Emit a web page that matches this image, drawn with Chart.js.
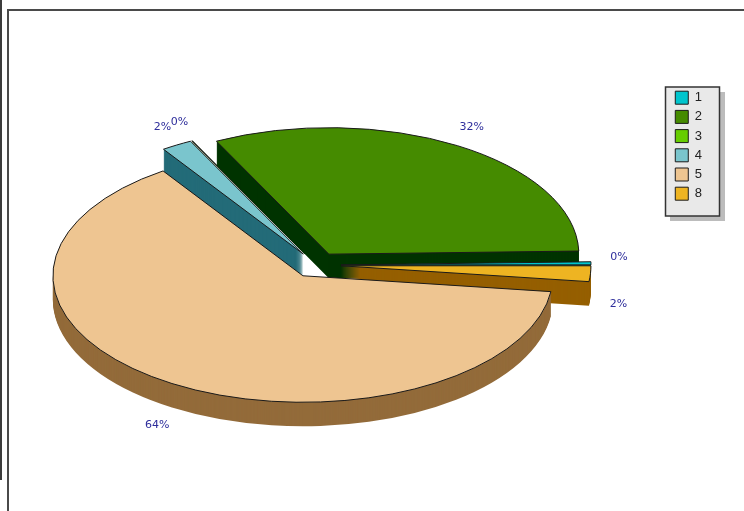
<!DOCTYPE html>
<html>
<head>
<meta charset="utf-8">
<style>
  html, body { margin: 0; padding: 0; background: #fff; overflow: hidden; }
  #wrap { position: relative; width: 744px; height: 511px; }
  #edge { position: absolute; left: 0; top: 0; width: 2px; height: 480px; background: #3c3c3c; }
  #frame { position: absolute; left: 7px; top: 9px; right: 0; bottom: 0; border-left: 2px solid #4a4a4a; border-top: 2px solid #4a4a4a; }
  canvas { position: absolute; left: 0; top: 0; }
</style>
<script src="https://cdn.jsdelivr.net/npm/chart.js@4"></script>
</head>
<body>
<div id="wrap">
  <div id="edge"></div>
  <div id="frame"></div>
  <canvas id="pie" width="744" height="511"></canvas>
</div>
<script>
// listed the way the legend reads, the pie itself runs the other way round
const categories = ["1", "2", "3", "4", "5", "8"];
const shares     = [0.39, 32.03, 0.03, 2.0, 63.55, 2.0];
const topColors  = ["#00c5cd", "#458b00", "#66cd00", "#7ac5cd", "#eec591", "#eeb422"];
const sideColors = ["#006a6e", "#003300", "#336600", "#236b78", "#936b3a", "#955f00"];

// painted back to front
const paintOrder = ["3", "4", "2", "1", "8", "5"];

const PIE_X = 316, PIE_Y = 265;
const SQUASH = 0.506, DEPTH = 24, EXPLODE = 25;
const LABEL_RADIUS = 303;

function reversed(list) { return list.slice().reverse(); }

// flat pie squashed into an ellipse, with a stack of dark copies below each slice
const pie3d = {
  id: "pie3d",
  beforeDraw(chart) {
    const ctx = chart.ctx;
    ctx.save();
    ctx.fillStyle = "#bcbcbc";
    ctx.fillRect(670, 92, 55, 129);
    ctx.fillStyle = "#e9e9e9";
    ctx.strokeStyle = "#333";
    ctx.lineWidth = 1.5;
    ctx.fillRect(665.5, 87, 54, 129);
    ctx.strokeRect(665.5, 87, 54, 129);
    ctx.restore();
  },
  beforeDatasetsDraw(chart) {
    const ctx = chart.ctx;
    const arcs = chart.getDatasetMeta(0).data;
    const names = chart.data.labels;

    function place(arc, drop) {
      const mid = (arc.startAngle + arc.endAngle) / 2;
      ctx.translate(PIE_X + Math.cos(mid) * EXPLODE, PIE_Y + Math.sin(mid) * EXPLODE * SQUASH + drop);
      ctx.scale(1, SQUASH);
      ctx.translate(-arc.x, -arc.y);
    }

    paintOrder.forEach((name) => {
      const i = names.indexOf(name);
      const arc = arcs[i];
      const side = Object.create(arc);
      const color = reversed(sideColors)[i];
      side.options = Object.assign({}, arc.options, { backgroundColor: color, borderColor: color, borderWidth: 0 });
      for (let k = DEPTH; k >= 1; k--) {
        ctx.save();
        place(arc, k);
        side.draw(ctx);
        ctx.restore();
      }
      ctx.save();
      place(arc, 0);
      // keep the outline even, the squash would thin it out otherwise
      const stroke = ctx.stroke;
      ctx.stroke = function () {
        ctx.save();
        ctx.setTransform(1, 0, 0, 1, 0, 0);
        stroke.call(ctx);
        ctx.restore();
      };
      arc.draw(ctx);
      delete ctx.stroke;
      ctx.restore();
    });

    // percentage labels
    ctx.save();
    ctx.font = "11px 'DejaVu Sans'";
    ctx.fillStyle = "#2d2d9b";
    ctx.textAlign = "center";
    ctx.textBaseline = "middle";
    arcs.forEach((arc, i) => {
      const mid = (arc.startAngle + arc.endAngle) / 2;
      const value = chart.data.datasets[0].data[i];
      const below = Math.sin(mid) > 0;
      const x = PIE_X + Math.cos(mid) * LABEL_RADIUS;
      const y = PIE_Y + Math.sin(mid) * LABEL_RADIUS * SQUASH + (below ? DEPTH + 6 : -6);
      ctx.fillText(Math.round(value) + "%", x, y);
    });
    ctx.restore();
    return false;
  },
};

new Chart(document.getElementById("pie"), {
  type: "pie",
  data: {
    labels: reversed(categories),
    datasets: [{
      data: reversed(shares),
      backgroundColor: reversed(topColors),
      borderColor: "#1a1a1a",
      borderWidth: 1,
      hoverOffset: 0,
    }],
  },
  options: {
    responsive: false,
    animation: false,
    radius: 250,
    rotation: 90,
    layout: { padding: { top: 85, right: 32 } },
    plugins: {
      legend: {
        position: "right",
        align: "start",
        reverse: true,
        labels: {
          boxWidth: 13,
          boxHeight: 13,
          padding: 6.2,
          color: "#222",
          font: { family: "'Liberation Sans'", size: 13 },
        },
      },
      tooltip: { enabled: false },
    },
  },
  plugins: [pie3d],
});
</script>
</body>
</html>
